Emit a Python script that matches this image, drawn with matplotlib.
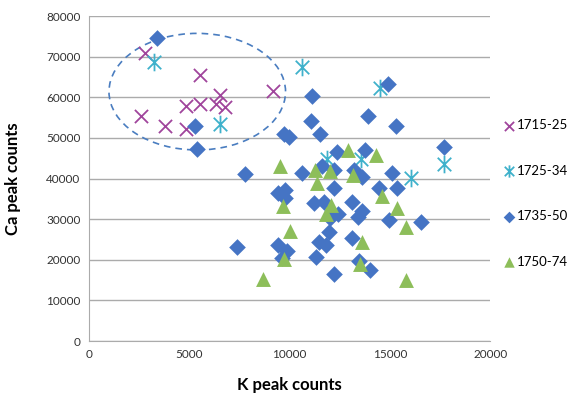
import matplotlib
matplotlib.use("Agg")
import matplotlib.pyplot as plt
from matplotlib.patches import Ellipse
from matplotlib.path import Path

# 1715-25
k_1715 = [2800, 5550, 4850, 5550, 6550, 6350, 6800, 2600, 3800, 4850, 9150]
ca_1715 = [70900, 65500, 57800, 58300, 60500, 58300, 57600, 55400, 52900, 52100, 61600]
# 1725-34
k_1725 = [3250, 6550, 10600, 14500, 17700, 16050, 11850, 13550]
ca_1725 = [68800, 53400, 67500, 62200, 43600, 40200, 44800, 44800]
# 1735-50
k_1735 = [3400, 5300, 5400, 9700, 9950, 7800, 11100, 11050, 11500, 14900, 13900,
          15300, 17700, 12350, 13750, 10600, 11600, 12200, 13200, 15100, 13600,
          14450, 15350, 12200, 9400, 9750, 9750, 11200, 11700, 13100, 12400,
          12000, 13600, 13400, 14950, 16550, 11950, 11450, 11800, 13100, 11300,
          7400, 9400, 9850, 9600, 12200, 14000, 13450]
ca_1735 = [74700, 53000, 47400, 51000, 50200, 41100, 60400, 54300, 51000, 63400, 55500,
           52900, 47800, 46600, 47100, 41400, 43100, 42200, 42000, 41500, 40400,
           37700, 37800, 37700, 36400, 37200, 35300, 34000, 34300, 34200, 31400,
           30200, 32000, 30500, 29900, 29400, 26900, 24400, 23700, 25300, 20800,
           23100, 23600, 22300, 20500, 16600, 17600, 19700]
# 1750-74
k_1750 = [9500, 9650, 10030, 9700, 8700, 12900, 14300, 11280, 12000, 13150, 11380,
          12050, 11800, 14600, 15350, 15780, 13600, 13500, 15820]
ca_1750 = [43000, 33300, 27000, 20300, 15400, 47000, 45800, 42000, 41800, 41000, 38900,
           33600, 31400, 35700, 32700, 28200, 24300, 19100, 15000]

# excel-style asterisk: an X plus a vertical stroke
ASTERISK = Path([(-1, -1), (1, 1), (-1, 1), (1, -1), (0, -1.3), (0, 1.3)],
                [Path.MOVETO, Path.LINETO] * 3)

plt.rcParams["font.family"] = ["Lato", "DejaVu Sans"]

fig = plt.figure(figsize=(5.70, 3.93), dpi=100)
ax = fig.add_axes([0.156, 0.132, 0.704, 0.827])

ax.scatter(k_1715, ca_1715, marker="x", s=90, color="#A0459C", linewidths=1.3,
           label="1715-25", zorder=3)
ax.scatter(k_1725, ca_1725, marker=ASTERISK, s=160, color="#3FB1CB", linewidths=1.3,
           label="1725-34", zorder=3)
ax.scatter(k_1735, ca_1735, marker="D", s=72, color="#4574C4", linewidths=0,
           label="1735-50", zorder=3)
ax.scatter(k_1750, ca_1750, marker="^", s=115, color="#8DBE5A", linewidths=0,
           label="1750-74", zorder=3)

ax.add_patch(Ellipse((5400, 61400), 8800, 28700, fill=False, ls=(0, (4, 3)),
                     lw=1.2, edgecolor="#4A7DC0", zorder=2))

ax.set_xlim(0, 20000)
ax.set_ylim(0, 80000)
ax.set_xticks(range(0, 20001, 5000))
ax.set_yticks(range(0, 80001, 10000))
ax.yaxis.grid(True, color="#ABABAB", lw=1.0)
ax.set_axisbelow(True)
for s in ("top", "right"):
    ax.spines[s].set_visible(False)
for s in ("left", "bottom"):
    ax.spines[s].set_color("#ABABAB")
ax.tick_params(length=0, labelsize=8.5, colors="#333333", pad=6)
ax.set_xlabel("K peak counts", fontsize=12, fontweight="bold", labelpad=12)
ax.set_ylabel("Ca peak counts", fontsize=12, fontweight="bold", labelpad=18)

ax.legend(loc="upper left", bbox_to_anchor=(1.0, 0.72), frameon=False,
          fontsize=9.5, labelspacing=2.55, handletextpad=0.1, handlelength=1.0,
          markerscale=0.7)

fig.savefig("out.png", dpi=100)
